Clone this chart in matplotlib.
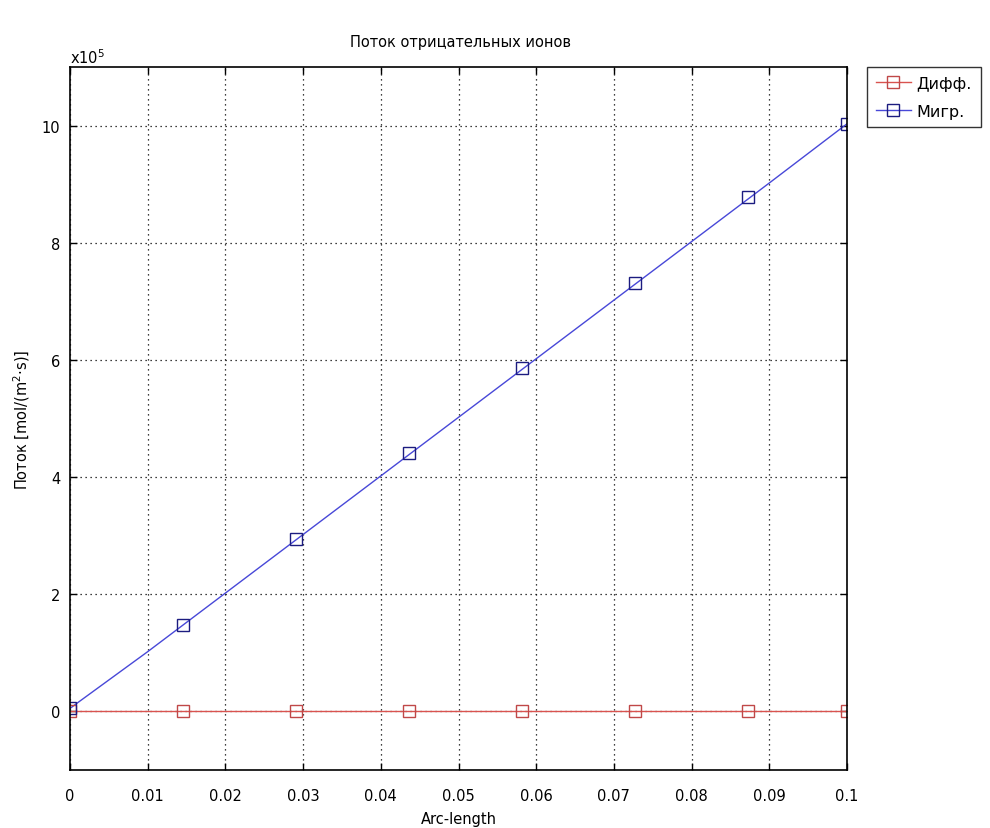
import matplotlib
matplotlib.use("Agg")
import matplotlib.pyplot as plt
import numpy as np
from matplotlib.lines import Line2D

# Data (flux in mol/(m^2*s))
line_x = [0.0, 0.001, 0.01, 0.02, 0.03, 0.04, 0.05, 0.06, 0.07, 0.08, 0.09, 0.1]
migr_line = [0.05e5, 0.15e5, 1.02e5, 2.02e5, 3.02e5, 4.02e5, 5.02e5, 6.02e5, 7.02e5, 8.02e5, 9.02e5, 10.03e5]
diff_line = [0.0] * len(line_x)

marker_x = [0.0, 0.01455, 0.0291, 0.04365, 0.0582, 0.07275, 0.0873, 0.1]
migr_markers = [0.05e5, 1.47e5, 2.94e5, 4.41e5, 5.87e5, 7.32e5, 8.78e5, 10.03e5]
diff_markers = [0.0] * len(marker_x)

xticks = [0, 0.01, 0.02, 0.03, 0.04, 0.05, 0.06, 0.07, 0.08, 0.09, 0.1]
xticklabels = ["0", "0.01", "0.02", "0.03", "0.04", "0.05", "0.06", "0.07", "0.08", "0.09", "0.1"]
yticks = [0, 2, 4, 6, 8, 10]
scale = 1e5

plt.rcParams['font.family'] = ['DejaVu Sans']
FS = 10.5
fig = plt.figure(figsize=(9.9, 8.29), dpi=100)
ax = fig.add_axes([70/990, 1-771/829, (847-70)/990, (771-68)/829])

red_line = '#d9534f'
red_mark = '#c04848'
blue_line = '#4848d8'
blue_mark = '#1c1c80'

ax.plot(line_x, np.array(diff_line)/scale, color=red_line, lw=1.0, zorder=3)
ax.plot(marker_x, np.array(diff_markers)/scale, ls='none', marker='s', ms=8,
        mfc='none', mec=red_mark, mew=1.0, zorder=4)
ax.plot(line_x, np.array(migr_line)/scale, color=blue_line, lw=1.0, zorder=3)
ax.plot(marker_x, np.array(migr_markers)/scale, ls='none', marker='s', ms=8,
        mfc='none', mec=blue_mark, mew=1.0, zorder=4)

ax.set_xlim(0, 0.1)
ax.set_ylim(-1, 11)
ax.set_xticks(xticks)
ax.set_xticklabels(xticklabels)
ax.set_yticks(yticks)
ax.tick_params(direction='in', length=5, width=1, top=True, right=True,
               labelsize=FS, colors='black')
ax.tick_params(axis='x', pad=13)
ax.tick_params(axis='y', pad=7)
ax.grid(True, color='black', ls=(0, (1, 3)), lw=0.9, zorder=2)
for s in ax.spines.values():
    s.set_linewidth(1.2)
    s.set_zorder(5)

ax.set_xlabel('Arc-length', fontsize=FS, labelpad=6)
ax.set_ylabel('Поток [mol/(m$^2$·s)]', fontsize=FS, labelpad=7)
fig.text(460/990, 1-42/829, 'Поток отрицательных ионов', ha='center', va='center', fontsize=FS)
ax.text(0.0, 1.001, 'x10$^5$', transform=ax.transAxes, ha='left', va='bottom', fontsize=FS)

handles = [Line2D([], [], color=red_line, lw=1, marker='s', ms=9, mfc='none', mec=red_mark),
           Line2D([], [], color=blue_line, lw=1, marker='s', ms=9, mfc='none', mec=blue_mark)]
leg = fig.legend(handles, ['Дифф.', 'Мигр.'], loc='upper left',
                 bbox_to_anchor=(867/990, 1-68/829), fontsize=FS + 1, frameon=True,
                 fancybox=False, edgecolor='black', handlelength=2.2, handletextpad=0.35,
                 borderpad=0.55, labelspacing=0.8, borderaxespad=0)
leg.get_frame().set_linewidth(1.0)

fig.savefig('out.png', dpi=100)
